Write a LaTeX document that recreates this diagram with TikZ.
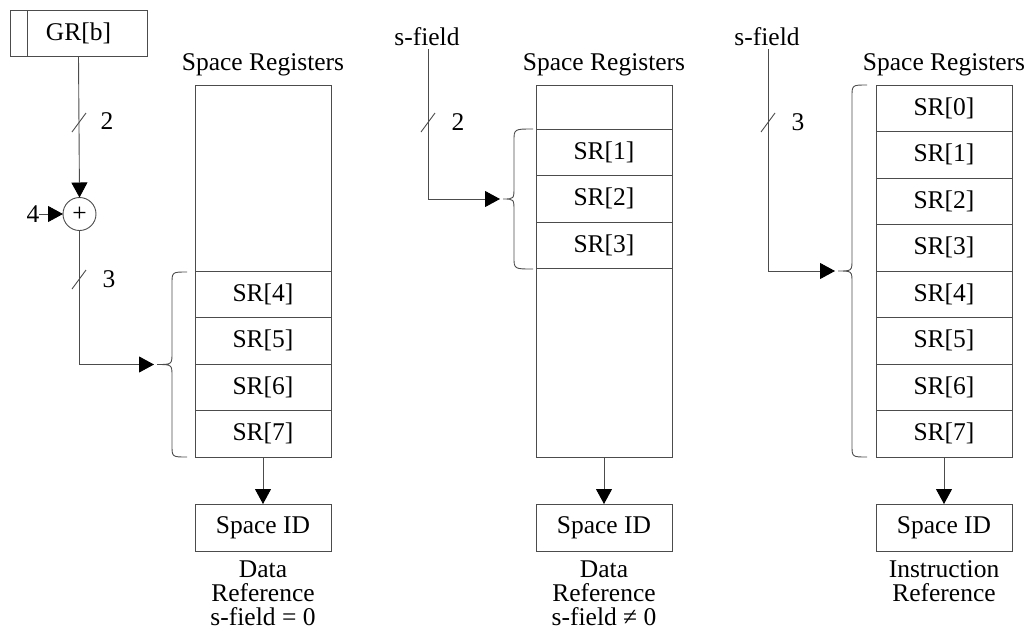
\documentclass[tikz,border=0pt]{standalone}
\usepackage{fontspec}
\setmainfont{Liberation Serif}
\usetikzlibrary{arrows.meta}
\definecolor{lc}{gray}{0.3}
% #1 = x of tips at top/bottom, #2 = x of vertical, #3 = x of middle tip, #4 = top y, #5 = bottom y
\newcommand\MyBrace[5]{%
  \draw[lc, line width=0.9pt] (#1,#4) .. controls (#2,#4) .. (#2,#4+12)
    -- (#2,{(#4+#5)/2-12}) .. controls (#2,{(#4+#5)/2}) .. (#3,{(#4+#5)/2})
    .. controls (#2,{(#4+#5)/2}) .. (#2,{(#4+#5)/2+12})
    -- (#2,#5-12) .. controls (#2,#5) .. (#1,#5);}
\begin{document}
\begin{tikzpicture}[x=1pt,y=-1pt,
  line width=0.9pt,
  every node/.style={font=\fontsize{25.5}{24.5}\selectfont, inner sep=0pt, outer sep=0pt},
  reg/.style={draw=lc, minimum width=136pt, minimum height=46.5pt, anchor=north west},
  tbl/.style={draw=lc, minimum width=136pt, minimum height=372pt, anchor=north west},
  idbox/.style={draw=lc, minimum width=136pt, minimum height=47pt},
  caption/.style={align=center, anchor=north, font=\fontsize{25.5}{24}\selectfont},
  conn/.style={draw=lc, -{Triangle[length=15pt,width=16pt,color=black]}},
  wire/.style={draw=lc},
  slash/.style={draw=lc}
]
\useasboundingbox (0,0) rectangle (1035,630);

% ---------- left column ----------
\node[draw=lc, minimum width=137pt, minimum height=46pt] (gr) at (78.5,33) {GR[b]};
\draw[lc] (27,10) -- (27,56);
\node[circle, draw=lc, minimum size=33pt] (add) at (79.5,214) {+};
\node (four) at (33,214) {4};
\draw[conn] (four.east) -- (add.west);
\draw[conn] (gr.south) -- (add.north);
\draw[slash] (72,132) -- (86,113);
\node (n2a) at (107,121) {2};
\coordinate (tipA) at (157,364.5);
\draw[conn, shorten >=3pt] (add.south) |- (tipA);
\draw[slash] (72,289) -- (86,270);
\node (n3a) at (109,279) {3};
\MyBrace{187}{172}{157}{272}{457}

\node (srl1) at (263,65) {Space Registers};
\node[tbl] (t1) at (195,85) {};
\node[reg] (a4) at (195,271) {SR[4]};
\node[reg] (a5) at (195,317.5) {SR[5]};
\node[reg] (a6) at (195,364) {SR[6]};
\node[reg] (a7) at (195,410.5) {SR[7]};
\node[idbox] (id1) at (263,527.5) {Space ID};
\draw[conn] (t1.south) -- (id1.north);
\node[caption] (c1) at (263,561) {Data\\Reference\\s-field = 0};

% ---------- middle column ----------
\node (sf2) at (427,37) {s-field};
\coordinate (tipB) at (503,199);
\draw[conn, shorten >=3pt] (428,49) |- (tipB);
\draw[slash] (421,132) -- (435,113);
\node (n2b) at (458,122) {2};
\MyBrace{533}{514}{503}{129}{269}

\node (srl2) at (604,65) {Space Registers};
\node[tbl] (t2) at (536,85) {};
\node[reg] (b1) at (536,129) {SR[1]};
\node[reg] (b2) at (536,175.5) {SR[2]};
\node[reg] (b3) at (536,222) {SR[3]};
\node[idbox] (id2) at (604,527.5) {Space ID};
\draw[conn] (t2.south) -- (id2.north);
\node[caption] (c2) at (604,561) {Data\\Reference\\s-field ≠ 0};

% ---------- right column ----------
\node (sf3) at (767,37) {s-field};
\coordinate (tipC) at (838,271);
\draw[conn, shorten >=3pt] (768,49) |- (tipC);
\draw[slash] (761,132) -- (775,113);
\node (n3c) at (798,122) {3};
\MyBrace{867}{852}{838}{85}{457}

\node (srl3) at (944,65) {Space Registers};
\node[tbl] (t3) at (876,85) {};
\node[reg] (r0) at (876,85) {SR[0]};
\node[reg] (r1) at (876,131.5) {SR[1]};
\node[reg] (r2) at (876,178) {SR[2]};
\node[reg] (r3) at (876,224.5) {SR[3]};
\node[reg] (r4) at (876,271) {SR[4]};
\node[reg] (r5) at (876,317.5) {SR[5]};
\node[reg] (r6) at (876,364) {SR[6]};
\node[reg] (r7) at (876,410.5) {SR[7]};
\node[idbox] (id3) at (944,527.5) {Space ID};
\draw[conn] (t3.south) -- (id3.north);
\node[caption] (c3) at (944,561) {Instruction\\Reference};
\end{tikzpicture}
\end{document}
